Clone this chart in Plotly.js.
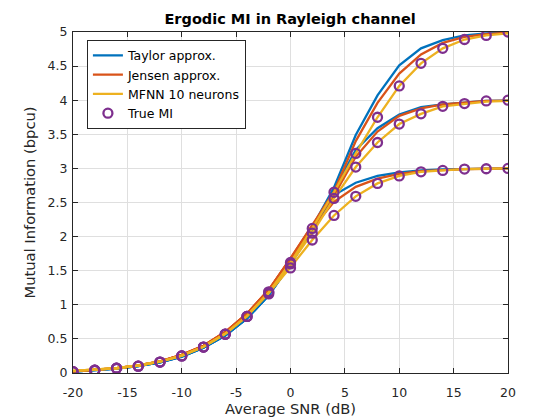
<!DOCTYPE html>
<html>
<head>
<meta charset="utf-8">
<script src="https://cdn.plot.ly/plotly-3.0.1.min.js"></script>
<style>html,body{margin:0;padding:0;background:#fff;}#chart{width:560px;height:420px;}</style>
</head>
<body>
<div id="chart"></div>
<script>
const snr = [-20,-18,-16,-14,-12,-10,-8,-6,-4,-2,0,2,4,6,8,10,12,14,16,18,20];

// Taylor approximation (3, 4, 5 bpcu constellations)
const taylor3 = [0.02,0.04,0.065,0.10,0.155,0.24,0.37,0.55,0.80,1.14,1.59,2.09,2.61,2.79,2.89,2.94,2.97,2.985,2.99,2.995,3.0];
const taylor4 = [0.02,0.04,0.065,0.10,0.155,0.24,0.37,0.55,0.80,1.14,1.60,2.12,2.68,3.27,3.59,3.79,3.90,3.94,3.97,3.99,3.995];
const taylor5 = [0.02,0.04,0.065,0.10,0.155,0.24,0.37,0.55,0.80,1.14,1.60,2.14,2.72,3.49,4.07,4.51,4.76,4.88,4.95,4.98,4.99];

// Jensen approximation
const jensen3 = [0.025,0.045,0.07,0.11,0.17,0.265,0.40,0.60,0.87,1.22,1.67,2.12,2.51,2.73,2.85,2.92,2.96,2.98,2.99,2.995,3.0];
const jensen4 = [0.025,0.045,0.07,0.11,0.17,0.265,0.40,0.60,0.87,1.22,1.68,2.16,2.60,3.17,3.54,3.77,3.88,3.94,3.97,3.99,3.995];
const jensen5 = [0.025,0.045,0.07,0.11,0.17,0.265,0.40,0.60,0.87,1.22,1.68,2.17,2.66,3.40,3.96,4.39,4.67,4.84,4.93,4.97,4.99];

// MFNN 10 neurons
const mfnn3 = [0.03,0.05,0.07,0.11,0.165,0.255,0.385,0.575,0.835,1.17,1.55,1.95,2.31,2.59,2.78,2.89,2.95,2.97,2.99,2.995,3.0];
const mfnn4 = [0.03,0.05,0.07,0.11,0.165,0.255,0.385,0.575,0.835,1.18,1.60,2.05,2.56,3.02,3.38,3.65,3.80,3.91,3.95,3.98,3.99];
const mfnn5 = [0.03,0.05,0.07,0.11,0.165,0.255,0.385,0.575,0.835,1.18,1.62,2.12,2.65,3.22,3.75,4.21,4.54,4.76,4.89,4.95,4.98];

// True MI
const true3 = [0.02,0.04,0.07,0.10,0.16,0.25,0.38,0.57,0.83,1.16,1.54,1.95,2.31,2.59,2.78,2.89,2.95,2.97,2.99,2.995,3.0];
const true4 = [0.02,0.04,0.07,0.10,0.16,0.25,0.38,0.57,0.83,1.18,1.60,2.05,2.56,3.02,3.38,3.65,3.80,3.91,3.95,3.99,4.0];
const true5 = [0.02,0.04,0.07,0.10,0.16,0.25,0.38,0.57,0.83,1.19,1.62,2.12,2.65,3.22,3.75,4.21,4.54,4.76,4.89,4.95,5.0];

const xTicks = [-20,-15,-10,-5,0,5,10,15,20];
const yTicks = [0,0.5,1,1.5,2,2.5,3,3.5,4,4.5,5];
const yTickText = ['0','0.5','1','1.5','2','2.5','3','3.5','4','4.5','5'];

const cBlue = '#0072BD', cRed = '#D95319', cYel = '#EDB120', cPur = '#7E2F8E';

function lineTrace(y, name, color, show) {
  return {x: snr, y: y, type: 'scatter', mode: 'lines', name: name,
    legendgroup: name, showlegend: show, line: {color: color, width: 2.3}};
}
function markTrace(y, name, show) {
  return {x: snr, y: y, type: 'scatter', mode: 'markers', name: name,
    legendgroup: name, showlegend: show,
    marker: {symbol: 'circle-open', size: 9, color: cPur, line: {color: cPur, width: 2.3}}};
}

const data = [
  lineTrace(taylor3, 'Taylor approx.', cBlue, true),
  lineTrace(taylor4, 'Taylor approx.', cBlue, false),
  lineTrace(taylor5, 'Taylor approx.', cBlue, false),
  lineTrace(jensen3, 'Jensen approx.', cRed, true),
  lineTrace(jensen4, 'Jensen approx.', cRed, false),
  lineTrace(jensen5, 'Jensen approx.', cRed, false),
  lineTrace(mfnn3, 'MFNN 10 neurons', cYel, true),
  lineTrace(mfnn4, 'MFNN 10 neurons', cYel, false),
  lineTrace(mfnn5, 'MFNN 10 neurons', cYel, false),
  markTrace(true3, 'True MI', true),
  markTrace(true4, 'True MI', false),
  markTrace(true5, 'True MI', false)
];

const axisCommon = {
  showline: true, linecolor: '#262626', linewidth: 1, mirror: 'ticks',
  ticks: 'inside', ticklen: 5, tickcolor: '#262626', tickwidth: 1,
  showgrid: true, gridcolor: '#dfdfdf', gridwidth: 1, zeroline: false,
  tickfont: {family: 'DejaVu Sans', size: 12.5, color: '#262626'}
};

const layout = {
  width: 560, height: 420,
  margin: {l: 73, r: 52, t: 32, b: 47},
  paper_bgcolor: '#ffffff', plot_bgcolor: '#ffffff',
  font: {family: 'DejaVu Sans', color: '#262626'},
  title: {text: '<b>Ergodic MI in Rayleigh channel</b>', x: 0.518, xanchor: 'center',
    y: 0.955, yanchor: 'middle', font: {family: 'DejaVu Sans', size: 14.5, color: '#000000'}},
  xaxis: Object.assign({}, axisCommon, {range: [-20, 20], tickvals: xTicks, ticktext: xTicks.map(String),
    ticklabelstandoff: 8,
    title: {text: 'Average SNR (dB)', standoff: 1, font: {family: 'DejaVu Sans', size: 14.7, color: '#262626'}}}),
  yaxis: Object.assign({}, axisCommon, {range: [0, 5], tickvals: yTicks, ticktext: yTickText,
    ticklabelstandoff: 2,
    title: {text: 'Mutual Information (bpcu)', standoff: 8, font: {family: 'DejaVu Sans', size: 14.7, color: '#262626'}}}),
  legend: {x: 0.032, y: 0.977, xanchor: 'left', yanchor: 'top', bgcolor: '#ffffff',
    bordercolor: '#262626', borderwidth: 1, font: {family: 'DejaVu Sans', size: 12.5, color: '#000000'},
    tracegroupgap: 0, itemwidth: 30},
  showlegend: true
};

Plotly.newPlot('chart', data, layout, {displayModeBar: false, staticPlot: true});
</script>
</body>
</html>
